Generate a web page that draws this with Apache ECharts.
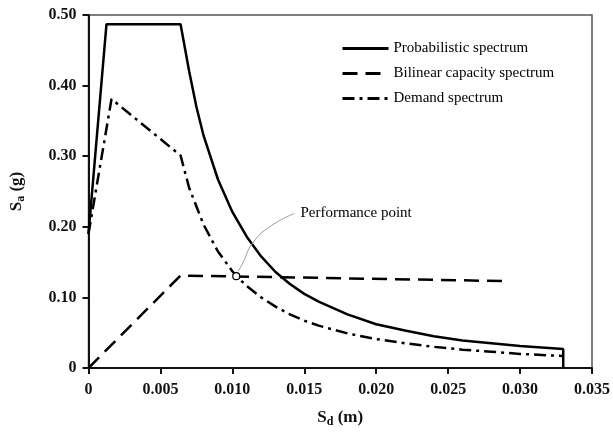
<!DOCTYPE html>
<html><head><meta charset="utf-8">
<script src="https://cdn.jsdelivr.net/npm/echarts@6/dist/echarts.min.js"></script>
<style>html,body{margin:0;padding:0;background:#fff}#c{width:613px;height:436px}</style>
</head><body><div id="c"></div>
<script>
// Probabilistic spectrum [Sd (m), Sa (g)]
const probSd = [0, 0.00125, 0.0064, 0.007, 0.0075, 0.008, 0.009, 0.010, 0.011, 0.012, 0.013, 0.014, 0.015, 0.016, 0.018, 0.020, 0.022, 0.024, 0.026, 0.028, 0.030, 0.033, 0.033];
const probSa = [0.19, 0.487, 0.487, 0.42, 0.37, 0.329, 0.267, 0.221, 0.186, 0.158, 0.136, 0.119, 0.105, 0.094, 0.076, 0.062, 0.053, 0.045, 0.039, 0.035, 0.031, 0.027, 0];
// Bilinear capacity spectrum
const capSd = [0, 0.0064, 0.0293];
const capSa = [0, 0.131, 0.123];
// Demand spectrum
const demSd = [0, 0.0016, 0.0064, 0.007, 0.008, 0.009, 0.010, 0.0103, 0.011, 0.012, 0.013, 0.014, 0.015, 0.016, 0.018, 0.020, 0.022, 0.024, 0.026, 0.028, 0.030, 0.033];
const demSa = [0.19, 0.381, 0.301, 0.255, 0.203, 0.165, 0.137, 0.130, 0.116, 0.100, 0.087, 0.076, 0.067, 0.060, 0.049, 0.041, 0.035, 0.030, 0.026, 0.023, 0.020, 0.017];
// Performance point and its leader line
const perfSd = [0.01027];
const perfSa = [0.130];
const leaderSd = [0.0104, 0.01072, 0.01141, 0.01259, 0.01432];
const leaderSa = [0.137, 0.1485, 0.177, 0.200, 0.219];
const perfLabel = 'Performance point';
const seriesNames = ['Probabilistic spectrum', 'Bilinear capacity spectrum', 'Demand spectrum'];

const zip = (a, b) => a.map((v, i) => [v, b[i]]);
const serif = 'Liberation Serif';

const chart = echarts.init(document.getElementById('c'));
chart.setOption({
  animation: false,
  grid: { left: 88, right: 20, top: 15, bottom: 68, show: true, borderColor: '#555', borderWidth: 1.5 },
  legend: {
    data: seriesNames, orient: 'vertical', left: 336, top: 36, itemWidth: 46, itemHeight: 12, itemGap: 10,
    itemStyle: { opacity: 0 },
    lineStyle: { width: 3 },
    textStyle: { fontFamily: serif, fontSize: 15, color: '#000' }
  },
  xAxis: {
    type: 'value', min: 0, max: 0.035, interval: 0.005,
    name: '{m|S}{s|d}{m| (m)}', nameLocation: 'middle', nameGap: 40,
    nameTextStyle: { rich: { m: { fontFamily: serif, fontSize: 17, fontWeight: 'bold', color: '#111' }, s: { fontFamily: serif, fontSize: 12, fontWeight: 'bold', color: '#111', padding: [8, 0, 0, 0] } } },
    axisLine: { lineStyle: { color: '#111', width: 2 } },
    axisTick: { show: true, inside: false, length: 6, lineStyle: { color: '#111', width: 2 } },
    axisLabel: { margin: 14, fontFamily: serif, fontSize: 16, fontWeight: 'bold', color: '#111', formatter: v => v === 0 ? '0' : v.toFixed(3) },
    splitLine: { show: false }
  },
  yAxis: {
    type: 'value', min: 0, max: 0.5, interval: 0.1,
    name: '{m|S}{s|a}{m| (g)}', nameLocation: 'middle', nameGap: 62, nameRotate: 90,
    nameTextStyle: { rich: { m: { fontFamily: serif, fontSize: 17, fontWeight: 'bold', color: '#111' }, s: { fontFamily: serif, fontSize: 12, fontWeight: 'bold', color: '#111', padding: [8, 0, 0, 0] } } },
    axisLine: { show: true, lineStyle: { color: '#111', width: 2 } },
    axisTick: { show: true, inside: false, length: 6, lineStyle: { color: '#111', width: 2 } },
    axisLabel: { margin: 12, fontFamily: serif, fontSize: 16, fontWeight: 'bold', color: '#111', formatter: v => v === 0 ? '0' : v.toFixed(2) },
    splitLine: { show: false }
  },
  series: [
    { name: seriesNames[0], type: 'line', data: zip(probSd, probSa), symbol: 'none', lineStyle: { color: '#000', width: 2.5 }, itemStyle: { color: '#000' } },
    { name: seriesNames[1], type: 'line', data: zip(capSd, capSa), symbol: 'none', lineStyle: { color: '#000', width: 2.5, type: [15, 8] }, itemStyle: { color: '#000' } },
    { name: seriesNames[2], type: 'line', data: zip(demSd, demSa), symbol: 'none', lineStyle: { color: '#000', width: 2.5, type: [12, 5, 3, 5] }, itemStyle: { color: '#000' } },
    { name: 'leader', type: 'line', data: zip(leaderSd, leaderSa), symbol: 'none', smooth: true, lineStyle: { color: '#999', width: 1 }, silent: true },
    { name: 'perf', type: 'scatter', data: zip(perfSd, perfSa), symbol: 'circle', symbolSize: 7, itemStyle: { color: '#fff', borderColor: '#000', borderWidth: 1.2, opacity: 1 }, z: 5 },
    { name: 'perfLabel', type: 'scatter', data: [[leaderSd[leaderSd.length - 1], leaderSa[leaderSa.length - 1]]], symbolSize: 0, itemStyle: { opacity: 1 },
      label: { show: true, position: 'right', distance: 6, formatter: perfLabel, fontFamily: serif, fontSize: 15, color: '#000' } }
  ]
});
</script></body></html>
